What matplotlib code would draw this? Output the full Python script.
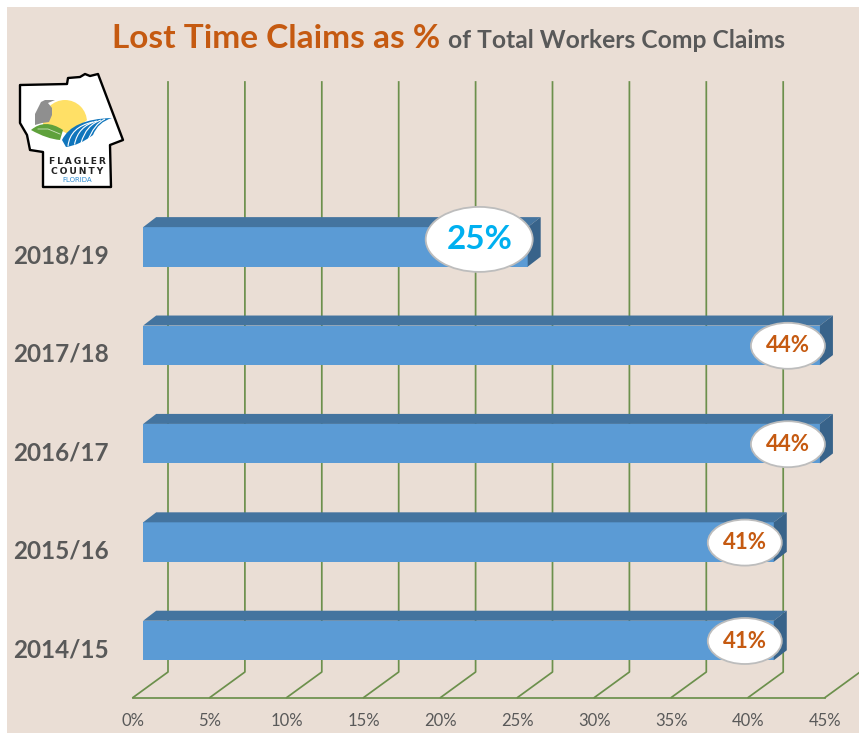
"""Lost time claims bar chart with fake 3D bars."""

import matplotlib
matplotlib.use("Agg")
import matplotlib.pyplot as plt
import matplotlib.patches as mpatches
from matplotlib.path import Path
import numpy as np

plt.rcParams["font.family"] = ["Lato", "DejaVu Sans"]

# Data
years = ["2014/15", "2015/16", "2016/17", "2017/18", "2018/19"]
claims = [41, 41, 44, 44, 25]
ticks = [0, 5, 10, 15, 20, 25, 30, 35, 40, 45]

# Colors
c_bg = "#EADED5"
c_front = "#5B9BD5"
c_top = "#44749F"
c_side = "#38638A"
c_grid = "#6C904C"
c_orange = "#C55A11"
c_blue = "#00B0F0"
c_grey = "#595959"

W, H = 859, 734
PX = 15.38       # pixels per percent
ROW = 98.4       # pixels per category
X0, Y0 = 143.2, 640.5  # pixel position of 0% / first category

fig = plt.figure(figsize=(W / 100, H / 100), dpi=100, facecolor="white")
fig.patches.append(mpatches.Rectangle((7 / W, 1 / H), (W - 7) / W, (H - 8) / H,
                                      transform=fig.transFigure, facecolor=c_bg,
                                      edgecolor="none", zorder=-1))

ax = fig.add_axes([0, 0, 1, 1])
ax.set_xlim(-X0 / PX, (W - X0) / PX)
ax.set_ylim((Y0 - H) / ROW, Y0 / ROW)
ax.axis("off")
ax.patch.set_alpha(0)


def dx(p):
    return p / PX


def dy(p):
    return p / ROW


# --- walls and floor ---
floor_x, floor_y = dx(-10.2), dy(-57)
back_x, back_y = dx(24.8), dy(-31.5)
top_y = dy(558.5)
for t in ticks:
    ax.plot([t + floor_x, t + back_x, t + back_x], [floor_y, back_y, top_y],
            color=c_grid, lw=1.25, zorder=1)
    ax.text(t + floor_x, dy(-81), f"{t}%", ha="center", va="center",
            fontsize=12, color=c_grey)
ax.plot([ticks[0] + floor_x, ticks[-1] + floor_x], [floor_y, floor_y],
        color=c_grid, lw=1.25, zorder=1)

# --- bars ---
bar_h = 0.402
ddx, ddy = dx(13), dy(10)
y_pos = np.arange(len(years))
ax.barh(y_pos, claims, height=bar_h, color=c_front, zorder=3)
for y, v in zip(y_pos, claims):
    t = y + bar_h / 2
    b = y - bar_h / 2
    ax.add_patch(mpatches.Polygon([(0, t), (ddx, t + ddy), (v + ddx, t + ddy), (v, t)],
                                  facecolor=c_top, edgecolor="none", zorder=3))
    ax.add_patch(mpatches.Polygon([(v, t), (v + ddx, t + ddy), (v + ddx, b + ddy), (v, b)],
                                  facecolor=c_side, edgecolor="none", zorder=3))

# --- data labels in ellipses ---
for y, v, label in zip(y_pos, claims, years):
    big = v == min(claims)
    w, h = (107, 65) if big else (74, 46)
    off = 48.5 if big else (32 if v == 44 else 29)
    yy = y + dy(7.5) if big else y - dy(0.5)
    ax.add_patch(mpatches.Ellipse((v - dx(off), yy), dx(w), dy(h), facecolor="white",
                                  edgecolor="#BDBDBD", lw=1.3, zorder=4))
    ax.text(v - dx(off), yy - dy(0.5 if big else 0), f"{v}%", ha="center", va="center", zorder=5,
            fontsize=24 if big else 16, fontweight="bold",
            color=c_blue if big else c_orange)
    ax.text(dx(13 - X0), y - dy(9), label, ha="left", va="center",
            fontsize=17.5, fontweight="bold", color=c_grey)

# --- title ---
ax.text(dx(112 - X0), dy(Y0 - 39), "Lost Time Claims as %", ha="left", va="center",
        fontsize=24, fontweight="bold", color=c_orange)
ax.text(dx(448 - X0), dy(Y0 - 41), "of Total Workers Comp Claims", ha="left", va="center",
        fontsize=17.7, fontweight="bold", color=c_grey)

# --- logo, drawn in pixel coordinates ---
lg = fig.add_axes([0, 0, 1, 1])
lg.set_xlim(0, W)
lg.set_ylim(H, 0)
lg.axis("off")
lg.patch.set_alpha(0)

outline = [(20, 85), (67, 84), (68, 78), (80, 77), (85, 74), (90, 76), (98, 74), (123, 140),
           (110, 145), (111, 187), (43, 187), (43, 152), (30, 150), (27, 135), (20, 123)]
lg.add_patch(mpatches.Polygon(outline, facecolor="white", edgecolor="black", lw=1.7,
                              joinstyle="round"))
lg.add_patch(mpatches.Circle((65, 122), 22, facecolor="#FFE066", edgecolor="none"))
lg.add_patch(mpatches.Polygon([(40, 124), (60, 130), (68, 134), (90, 118), (90, 148), (40, 148)],
                              facecolor="white", edgecolor="none"))
# heron
lg.add_patch(mpatches.Polygon([(35, 125), (35, 114), (39, 106), (41, 102), (45, 100), (55, 100),
                               (48, 103), (52, 108), (52, 115), (49, 122), (42, 123)],
                              facecolor="#8F8F8F", edgecolor="none"))
# leaf
leaf = Path([(31, 130), (45, 118), (63, 130), (60, 140), (47, 139), (31, 130)],
            [Path.MOVETO, Path.CURVE3, Path.CURVE3, Path.LINETO, Path.CURVE3, Path.CURVE3])
lg.add_patch(mpatches.PathPatch(leaf, facecolor="#5FA13C", edgecolor="none"))
lg.plot([38, 48, 60], [129, 129, 134], color="#CFE3BF", lw=0.6)
# water
water = Path([(62, 140), (72, 119), (112, 118), (98, 122), (93, 135), (80, 145), (66, 147), (62, 140)],
             [Path.MOVETO, Path.CURVE3, Path.CURVE3, Path.CURVE3, Path.CURVE3, Path.CURVE3,
              Path.LINETO, Path.LINETO])
lg.add_patch(mpatches.PathPatch(water, facecolor="#0F75BC", edgecolor="none"))
for i in range(4):
    arc = Path([(68 + 6.5 * i, 146 - 1.5 * i), (70 + 8 * i, 127 - i), (93 + 4 * i, 122 - i)],
               [Path.MOVETO, Path.CURVE3, Path.CURVE3])
    lg.add_patch(mpatches.PathPatch(arc, facecolor="none", edgecolor="white", lw=0.8))
lg.text(77, 161.5, "\u2009".join("FLAGLER"), ha="center", va="center", fontsize=6.6,
        family="DejaVu Sans", fontweight="bold", color="#222222")
lg.text(77, 171, "\u2009".join("COUNTY"), ha="center", va="center", fontsize=6.6,
        family="DejaVu Sans", fontweight="bold", color="#222222")
lg.text(77, 179.5, "FLORIDA", ha="center", va="center", fontsize=5, family="DejaVu Sans",
        color="#2E8BD0")

fig.savefig("out.png", dpi=100, facecolor="white")
